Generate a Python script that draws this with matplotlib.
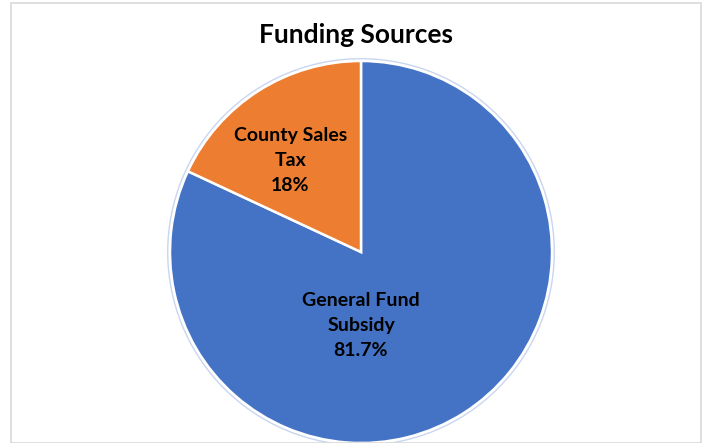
import matplotlib
matplotlib.use('Agg')
import matplotlib.pyplot as plt
from matplotlib.patches import Rectangle, Circle

# chart data
categories = ['General Fund\nSubsidy', 'County Sales\nTax']
values = [81.7, 18.0]
value_labels = ['81.7%', '18%']
colors = ['#4472C4', '#ED7D31']

plt.rcParams['font.family'] = ['Lato', 'DejaVu Sans']

fig = plt.figure(figsize=(7.05, 4.43), dpi=100)

# light grey chart border
fig.patches.append(Rectangle((11 / 705, 0.5 / 443), 690 / 705, 1 - 3.5 / 443,
                             transform=fig.transFigure, fill=False,
                             edgecolor='#D9D9D9', linewidth=1.2))

ax = fig.add_axes([170 / 705, 0.0, 382 / 705, 382 / 443])
wedges, _ = ax.pie(values, colors=colors, startangle=90, counterclock=False,
                   radius=1, wedgeprops=dict(edgecolor='white', linewidth=1.8))
# faint outline around the pie
ax.add_patch(Circle((0, 0), 1.012, fill=False, edgecolor='#C9D6EF',
                    linewidth=1.0, clip_on=False))
ax.set_xlim(-1.0, 1.0)
ax.set_ylim(-1.0, 1.0)
ax.set_aspect('equal')
ax.axis('off')

# data labels
label_pos = [(0.0, -0.385), (-0.37, 0.48)]
for cat, lab, (x, y) in zip(categories, value_labels, label_pos):
    ax.text(x, y, cat + '\n' + lab, ha='center', va='center', fontsize=14,
            fontweight='bold', color='black', linespacing=1.55)

fig.text(356 / 705, 1 - 35 / 443, 'Funding Sources', ha='center', va='center',
         fontsize=19, fontweight='bold', color='black')

fig.savefig('out.png', dpi=100)
